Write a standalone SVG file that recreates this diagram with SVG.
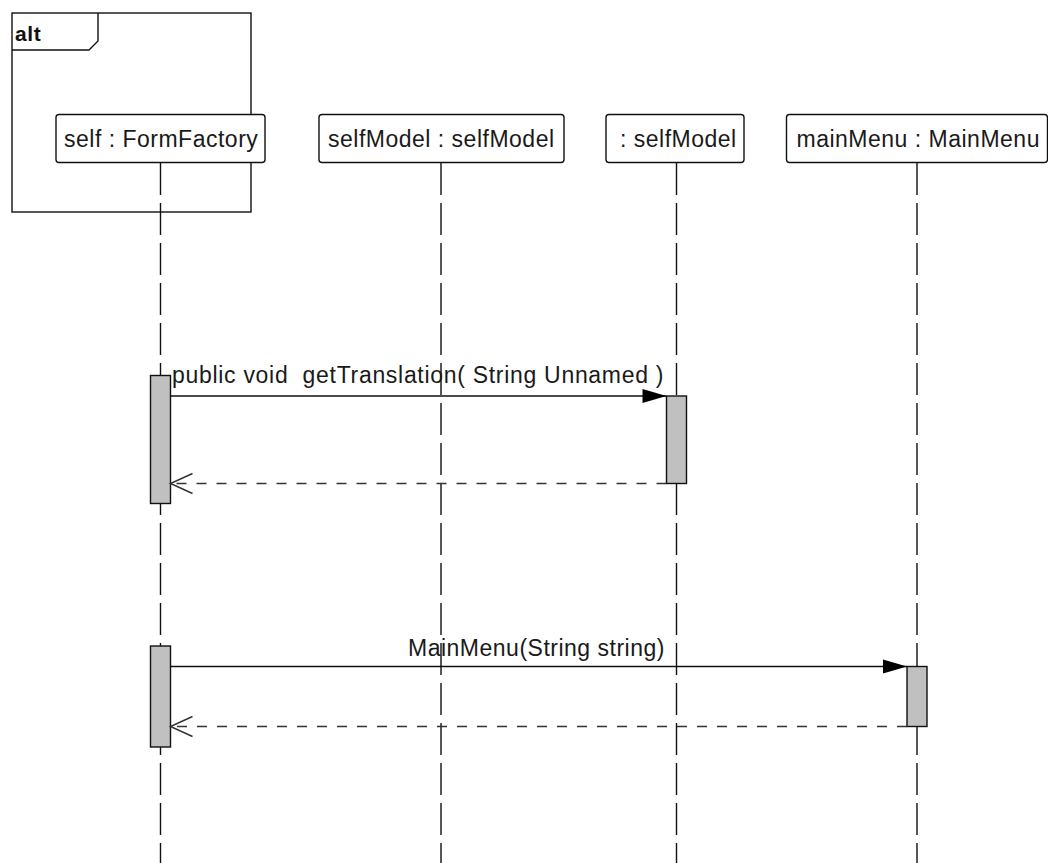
<svg xmlns="http://www.w3.org/2000/svg" width="1048" height="863" viewBox="0 0 1048 863">
  <style>
    .bg { fill: #ffffff; }
    .frame { fill: none; stroke: #111; stroke-width: 1.4; }
    .frame-label { font-family: "Liberation Sans", Arial, sans-serif; font-size: 21px; font-weight: bold; letter-spacing: 0.6px; fill: #111; }
    .head { fill: #ffffff; stroke: #111; stroke-width: 1.4; }
    .label { font-family: "Liberation Sans", Arial, sans-serif; font-size: 23px; letter-spacing: 0.5px; fill: #1a1a1a; }
    .lifeline { stroke: #111; stroke-width: 1.4; stroke-dasharray: 32 8; fill: none; }
    .activation { fill: #c0c0c0; stroke: #111; stroke-width: 1.4; }
    .call { stroke: #111; stroke-width: 1.4; fill: none; marker-end: url(#filled); }
    .reply { stroke: #333; stroke-width: 1.5; fill: none; stroke-dasharray: 10 10; marker-end: url(#open); }
  </style>
  <defs>
    <marker id="filled" markerUnits="userSpaceOnUse" markerWidth="24" markerHeight="14" refX="24" refY="7" orient="auto" overflow="visible">
      <path d="M0,0 L24,7 L0,14 Z" fill="#000"/>
    </marker>
    <marker id="open" markerUnits="userSpaceOnUse" markerWidth="22" markerHeight="20" refX="22" refY="10" orient="auto" overflow="visible">
      <path d="M0,0 L22,10 L0,20" fill="none" stroke="#333" stroke-width="1.5"/>
    </marker>
  </defs>

  <rect class="bg" x="0" y="0" width="1048" height="863"/>

  <!-- combined fragment -->
  <g id="frame-alt">
    <rect class="frame" x="12" y="13" width="239" height="199"/>
    <path class="frame" d="M12,50 L89,50 L98,41 L98,13"/>
    <text class="frame-label" x="15" y="41">alt</text>
  </g>

  <!-- lifelines -->
  <g id="node-self">
    <line class="lifeline" x1="160.5" y1="163" x2="160.5" y2="863"/>
    <rect class="head" x="56" y="114.5" width="209" height="48" rx="3"/>
    <text class="label" x="64" y="147">self : FormFactory</text>
    <rect class="activation" x="150.5" y="375.5" width="20" height="128"/>
    <rect class="activation" x="150.5" y="646" width="20" height="101"/>
  </g>

  <g id="node-selfModel">
    <line class="lifeline" x1="441" y1="163" x2="441" y2="863"/>
    <rect class="head" x="319" y="114.5" width="245" height="48" rx="3"/>
    <text class="label" x="328" y="147">selfModel : selfModel</text>
  </g>

  <g id="node-anonSelfModel">
    <line class="lifeline" x1="676.5" y1="163" x2="676.5" y2="863"/>
    <rect class="head" x="606" y="114.5" width="138" height="48" rx="3"/>
    <text class="label" x="620" y="147">: selfModel</text>
    <rect class="activation" x="666.5" y="396" width="20" height="87.5"/>
  </g>

  <g id="node-mainMenu">
    <line class="lifeline" x1="917" y1="163" x2="917" y2="863"/>
    <rect class="head" x="786.5" y="114.5" width="261" height="48" rx="3"/>
    <text class="label" x="796.5" y="147">mainMenu : MainMenu</text>
    <rect class="activation" x="907" y="666.5" width="20" height="60"/>
  </g>

  <!-- messages -->
  <g id="connectors">
    <line class="call" x1="170.5" y1="396" x2="666.5" y2="396"/>
    <text class="label" x="172" y="383" xml:space="preserve" style="letter-spacing:0.7px">public void  getTranslation( String Unnamed )</text>
    <line class="reply" x1="666.5" y1="483.5" x2="170.5" y2="483.5"/>

    <line class="call" x1="170.5" y1="666.5" x2="907" y2="666.5"/>
    <text class="label" x="408" y="656">MainMenu(String string)</text>
    <line class="reply" x1="907" y1="726.5" x2="170.5" y2="726.5"/>
  </g>
</svg>
